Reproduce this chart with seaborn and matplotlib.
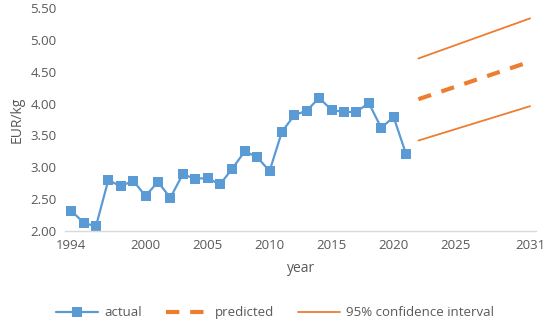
import numpy as np
import pandas as pd
import matplotlib.pyplot as plt
import seaborn as sns

# actual price series
years_actual = list(range(1994, 2022))
price_actual = [2.32, 2.13, 2.07, 2.80, 2.70, 2.79, 2.55, 2.77, 2.52, 2.89,
                2.82, 2.83, 2.73, 2.98, 3.25, 3.16, 2.94, 3.56, 3.82, 3.89,
                4.09, 3.90, 3.87, 3.87, 4.01, 3.62, 3.79, 3.21]

# forecast
years_pred = [2022, 2031]
price_pred = [4.07, 4.66]
ci_lower = [3.42, 3.96]
ci_upper = [4.71, 5.34]

x_ticks = [1994, 2000, 2005, 2010, 2015, 2020, 2025, 2031]
y_ticks = [2.00, 2.50, 3.00, 3.50, 4.00, 4.50, 5.00, 5.50]

BLUE = "#5B9BD5"
ORANGE = "#ED7D31"
GREY = "#595959"

sns.set_style("white")
plt.rcParams['font.family'] = ['Open Sans', 'DejaVu Sans']

df_act = pd.DataFrame({"year": years_actual, "price": price_actual})
df_pred = pd.DataFrame({"year": years_pred, "pred": price_pred,
                        "lo": ci_lower, "hi": ci_upper})

fig, ax = plt.subplots(figsize=(5.5, 3.28), dpi=100)
fig.subplots_adjust(left=0.118, right=0.975, top=0.975, bottom=0.296)

sns.lineplot(data=df_act, x="year", y="price", ax=ax, color=BLUE, lw=1.6,
             marker="s", markersize=7, markeredgewidth=0, label="actual")
sns.lineplot(data=df_pred, x="year", y="pred", ax=ax, color=ORANGE, lw=3,
             dashes=False, label="predicted")
ax.lines[-1].set_dashes([3.2, 2.6])
sns.lineplot(data=df_pred, x="year", y="hi", ax=ax, color=ORANGE, lw=1.3,
             label="95% confidence interval")
sns.lineplot(data=df_pred, x="year", y="lo", ax=ax, color=ORANGE, lw=1.3)

ax.set_xlim(1993.5, 2031.5)
ax.set_ylim(2.0, 5.5)
ax.set_xticks(x_ticks)
ax.set_yticks(y_ticks)
ax.set_yticklabels([f"{v:.2f}" for v in y_ticks])
ax.tick_params(axis="both", length=0, labelsize=9.5, colors=GREY, pad=6)

for s in ["top", "right", "left"]:
    ax.spines[s].set_visible(False)
ax.spines["bottom"].set_color("#D9D9D9")
ax.spines["bottom"].set_linewidth(1)

ax.set_xlabel("year", fontsize=10, color=GREY, labelpad=6)
ax.set_ylabel("EUR/kg", fontsize=10, color=GREY, labelpad=4)

handles, labels = ax.get_legend_handles_labels()
ax.legend_.remove()
leg = fig.legend(handles, labels, loc="lower center", ncol=3, frameon=False,
                 fontsize=9.5, labelcolor=GREY, handlelength=3.2,
                 columnspacing=1.8, handletextpad=0.5,
                 bbox_to_anchor=(0.5, -0.01))
leg.get_lines()[1].set_dashes([3.2, 2.6])

fig.savefig("out.png", dpi=100)
